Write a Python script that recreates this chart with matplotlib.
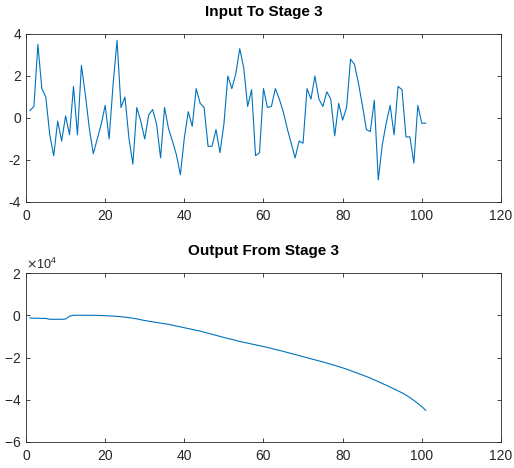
import matplotlib
matplotlib.use("Agg")
import matplotlib.pyplot as plt
from matplotlib.ticker import ScalarFormatter

plt.rcParams["font.family"] = ["Liberation Sans", "DejaVu Sans"]
plt.rcParams["axes.unicode_minus"] = False

# sample index
x = list(range(1, 102))

# input signal to stage 3
stage_in = [
    0.35, 0.55, 3.5, 1.4, 1.0, -0.8, -1.8, -0.15, -1.1, 0.1,
    -0.8, 1.5, -0.8, 2.5, 1.1, -0.5, -1.7, -1.0, -0.3, 0.6,
    -1.0, 1.6, 3.7, 0.5, 1.0, -0.95, -2.2, 0.5, -0.15, -1.0,
    0.15, 0.4, -0.3, -1.9, 0.5, -0.5, -1.1, -1.75, -2.7, -0.95,
    0.3, -0.4, 1.4, 0.7, 0.5, -1.35, -1.35, -0.55, -1.65, -0.3,
    2.0, 1.4, 2.1, 3.3, 2.4, 0.55, 1.35, -1.8, -1.65, 1.4,
    0.5, 0.55, 1.4, 0.9, 0.3, -0.5, -1.2, -1.9, -1.1, -1.2,
    1.4, 0.9, 2.0, 0.9, 0.55, 1.25, 0.9, -0.85, 0.7, -0.1,
    0.5, 2.8, 2.55, 1.65, 0.6, -0.55, -0.65, 0.85, -2.95, -1.3,
    -0.25, 0.6, -0.8, 1.5, 1.35, -0.9, -0.9, -2.15, 0.6, -0.25,
    -0.25,
]

# output of stage 3 (bottom panel)
stage_out = [
    -1300, -1400, -1400, -1500, -1500, -1900, -1900, -1900, -1900, -1800,
    -400, 0, 0, 0, 0, 0, 0, -50, -100, -200,
    -300, -400, -500, -700, -900, -1100, -1400, -1700, -2100, -2500,
    -2800, -3100, -3400, -3700, -4000, -4300, -4700, -5100, -5500, -5900,
    -6300, -6700, -7100, -7500, -8000, -8500, -9000, -9500, -10000, -10500,
    -11000, -11400, -11900, -12400, -12800, -13200, -13600, -14000, -14400, -14800,
    -15200, -15700, -16200, -16600, -17100, -17600, -18100, -18600, -19100, -19600,
    -20100, -20600, -21100, -21600, -22100, -22600, -23200, -23700, -24300, -24900,
    -25500, -26200, -26900, -27600, -28300, -29000, -29800, -30600, -31400, -32300,
    -33100, -34000, -34900, -35800, -36700, -37800, -39000, -40300, -41700, -43300,
    -45000,
]

line_color = "#0072BD"
axis_color = "#262626"

fig = plt.figure(figsize=(5.14, 4.68), dpi=100)
ax1 = fig.add_axes([0.0506, 0.5684, 0.924, 0.359])
ax2 = fig.add_axes([0.0506, 0.0556, 0.924, 0.361])

for ax in (ax1, ax2):
    ax.set_xlim(0, 120)
    ax.set_xticks([0, 20, 40, 60, 80, 100, 120])
    ax.tick_params(direction="in", top=True, right=True, length=3,
                   labelsize=10, colors=axis_color, width=0.6)
    ax.tick_params(axis="x", pad=5)
    for s in ax.spines.values():
        s.set_color(axis_color)
        s.set_linewidth(0.6)

ax1.plot(x, stage_in, color=line_color, linewidth=0.8)
ax1.set_ylim(-4, 4)
ax1.set_yticks([-4, -2, 0, 2, 4])
ax1.set_title("Input To Stage 3", fontsize=11, fontweight="bold", pad=13)

ax2.plot(x, stage_out, color=line_color, linewidth=0.8)
ax2.set_ylim(-60000, 20000)
ax2.set_yticks([-60000, -40000, -20000, 0, 20000])
fmt = ScalarFormatter(useMathText=True)
fmt.set_powerlimits((4, 4))
ax2.yaxis.set_major_formatter(fmt)
ax2.yaxis.get_offset_text().set_fontsize(9)
ax2.yaxis.get_offset_text().set_color(axis_color)
ax2.set_title("Output From Stage 3", fontsize=11, fontweight="bold", pad=13)

fig.savefig("out.png", dpi=100)
